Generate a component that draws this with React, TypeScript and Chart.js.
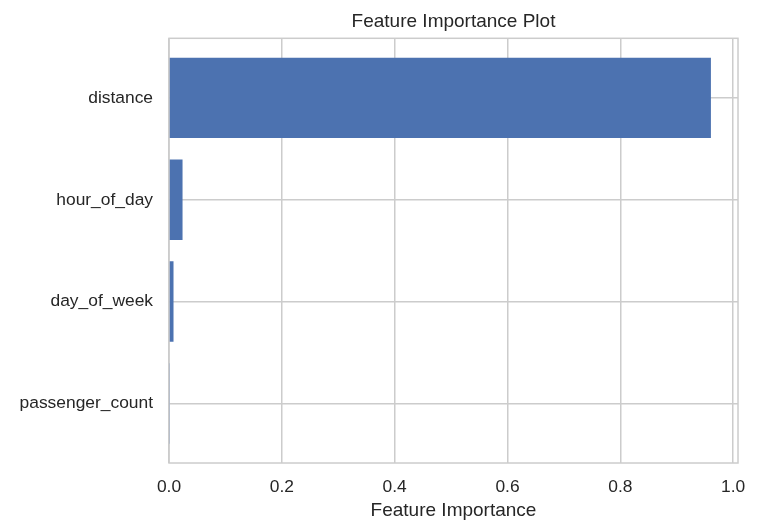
import React, { useEffect, useRef } from "react";
import { Chart, registerables } from "chart.js";

Chart.register(...registerables);

// sorted as in the plot: first entry sits at the bottom
const features = ["passenger_count", "day_of_week", "hour_of_day", "distance"];
const importances = [0.001, 0.008, 0.024, 0.9605];
const xTicks = [0, 0.2, 0.4, 0.6, 0.8, 1.0];

const textColor = "#262626";
const gridColor = "#cccccc";

const framePlugin = {
  id: "frame",
  beforeDatasetsDraw(chart: any) {
    const { ctx, chartArea } = chart;
    ctx.save();
    ctx.strokeStyle = gridColor;
    ctx.lineWidth = 1.5;
    ctx.strokeRect(
      chartArea.left,
      chartArea.top,
      chartArea.right - chartArea.left,
      chartArea.bottom - chartArea.top
    );
    ctx.restore();
  },
};

export default function App() {
  const canvasRef = useRef<HTMLCanvasElement | null>(null);
  const chartRef = useRef<Chart | null>(null);

  useEffect(() => {
    const ctx = canvasRef.current?.getContext("2d");
    if (!ctx) return;
    if (chartRef.current) chartRef.current.destroy();

    Chart.defaults.font.family = "'Liberation Sans', Arial, sans-serif";
    Chart.defaults.color = textColor;

    chartRef.current = new Chart(ctx, {
      type: "bar",
      data: {
        datasets: [
          {
            label: "importance",
            data: features.map((_, i) => ({ x: importances[i], y: i })),
            backgroundColor: "#4C72B0",
            borderWidth: 0,
            barPercentage: 0.79,
            categoryPercentage: 1,
          },
        ],
      },
      options: {
        indexAxis: "y",
        animation: false,
        responsive: true,
        maintainAspectRatio: false,
        layout: { padding: { left: 0, right: 28, top: 0, bottom: 0 } },
        plugins: {
          legend: { display: false },
          tooltip: { enabled: false },
          title: {
            display: true,
            text: "Feature Importance Plot",
            fullSize: false,
            color: textColor,
            font: { size: 19, weight: "normal", lineHeight: 1.2 },
            padding: { top: 10, bottom: 5.5 },
          },
        },
        scales: {
          x: {
            type: "linear",
            min: 0,
            max: 1.0085,
            afterBuildTicks: (scale: any) => {
              scale.ticks = xTicks.map((v) => ({ value: v }));
            },
            afterFit: (scale: any) => {
              scale.height = 57;
            },
            grid: { color: gridColor, lineWidth: 1.5, drawTicks: false },
            border: { display: false },
            ticks: {
              color: textColor,
              font: { size: 17.4 },
              padding: 14,
              callback: (v: any) => Number(v).toFixed(1),
            },
            title: {
              display: true,
              text: "Feature Importance",
              color: textColor,
              font: { size: 19, lineHeight: 1 },
              padding: { top: 0, bottom: 0 },
            },
          },
          y: {
            type: "linear",
            min: -0.585,
            max: 3.585,
            offset: false,
            afterBuildTicks: (scale: any) => {
              scale.ticks = features.map((_, i) => ({ value: i }));
            },
            afterFit: (scale: any) => {
              scale.width = 169;
            },
            grid: {
              color: gridColor,
              lineWidth: 1.5,
              drawTicks: false,
              offset: false,
            },
            border: { display: false },
            ticks: {
              color: textColor,
              font: { size: 17.4 },
              padding: 16,
              callback: (v: any) => features[v] ?? "",
            },
          },
        },
      },
      plugins: [framePlugin],
    } as any);

    return () => {
      if (chartRef.current) {
        chartRef.current.destroy();
        chartRef.current = null;
      }
    };
  }, []);

  return (
    <div
      style={{
        position: "absolute",
        left: 0,
        top: 0,
        width: 766,
        height: 520,
        background: "#ffffff",
      }}
    >
      <canvas ref={canvasRef}></canvas>
    </div>
  );
}
